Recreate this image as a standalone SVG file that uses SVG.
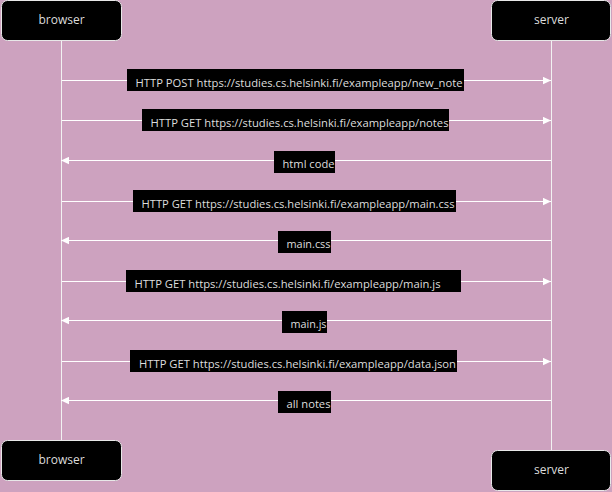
<svg xmlns="http://www.w3.org/2000/svg" width="612" height="492" viewBox="0 0 612 492">
<style>
.actor{fill:#000;stroke:#e8e8e8;stroke-width:1}
.atext{fill:#dcdcdc;font-family:"Open Sans","Noto Sans",sans-serif;font-size:12px;text-anchor:middle}
.life{stroke:#f2f2f2;stroke-width:1}
.msg{stroke:#ffffff;stroke-width:1;fill:none}
.lbox{fill:#000}
.ltext{fill:#dedede;font-family:"Open Sans","Noto Sans",sans-serif;font-size:11.5px}
</style>
<defs>
<marker id="ah" markerWidth="8" markerHeight="8" refX="8" refY="4" orient="auto" markerUnits="userSpaceOnUse">
<path d="M0,0.3 L8,4 L0,7.7 Z" fill="#ffffff"/>
</marker>
</defs>
<rect width="612" height="492" fill="#cda2bf"/>
<g id="lifelines">
<line class="life" x1="61.5" y1="41" x2="61.5" y2="440"/>
<line class="life" x1="551.5" y1="41" x2="551.5" y2="451"/>
</g>
<g id="browser-top"><rect class="actor" x="1.5" y="0.5" width="120" height="40" rx="6"/><text class="atext" x="61.5" y="24">browser</text></g>
<g id="server-top"><rect class="actor" x="491.5" y="0.5" width="119" height="40" rx="6"/><text class="atext" x="551.5" y="24">server</text></g>
<g id="browser-bottom"><rect class="actor" x="1.5" y="440.5" width="120" height="40" rx="6"/><text class="atext" x="61.5" y="464">browser</text></g>
<g id="server-bottom"><rect class="actor" x="491.5" y="450.5" width="119" height="40" rx="6"/><text class="atext" x="551.5" y="474">server</text></g>
<g id="connectors">
<line class="msg" x1="62" y1="80.5" x2="551" y2="80.5" marker-end="url(#ah)"/>
<line class="msg" x1="62" y1="120.5" x2="551" y2="120.5" marker-end="url(#ah)"/>
<line class="msg" x1="551" y1="160.5" x2="61" y2="160.5" marker-end="url(#ah)"/>
<line class="msg" x1="62" y1="201.5" x2="551" y2="201.5" marker-end="url(#ah)"/>
<line class="msg" x1="551" y1="240.5" x2="61" y2="240.5" marker-end="url(#ah)"/>
<line class="msg" x1="62" y1="281.5" x2="551" y2="281.5" marker-end="url(#ah)"/>
<line class="msg" x1="551" y1="320.5" x2="61" y2="320.5" marker-end="url(#ah)"/>
<line class="msg" x1="62" y1="361.5" x2="551" y2="361.5" marker-end="url(#ah)"/>
<line class="msg" x1="551" y1="400.5" x2="61" y2="400.5" marker-end="url(#ah)"/>
</g>
<g id="labels">
<rect class="lbox" x="127" y="69" width="337" height="22"/>
<text class="ltext" x="135.5" y="86.5" textLength="327" lengthAdjust="spacingAndGlyphs">HTTP POST https://studies.cs.helsinki.fi/exampleapp/new_note</text>
<rect class="lbox" x="142" y="109" width="307" height="22"/>
<text class="ltext" x="150.5" y="126.5" textLength="298" lengthAdjust="spacingAndGlyphs">HTTP GET https://studies.cs.helsinki.fi/exampleapp/notes</text>
<rect class="lbox" x="274" y="151" width="61" height="22"/>
<text class="ltext" x="282.5" y="167.5" textLength="52" lengthAdjust="spacingAndGlyphs">html code</text>
<rect class="lbox" x="133" y="190" width="323" height="22"/>
<text class="ltext" x="141.5" y="207.5" textLength="313" lengthAdjust="spacingAndGlyphs">HTTP GET https://studies.cs.helsinki.fi/exampleapp/main.css</text>
<rect class="lbox" x="278" y="231" width="53" height="22"/>
<text class="ltext" x="286.5" y="247.5" textLength="44" lengthAdjust="spacingAndGlyphs">main.css</text>
<rect class="lbox" x="126" y="270" width="335" height="22"/>
<text class="ltext" x="134.5" y="287.5" textLength="306" lengthAdjust="spacingAndGlyphs">HTTP GET https://studies.cs.helsinki.fi/exampleapp/main.js</text>
<rect class="lbox" x="282" y="311" width="45" height="22"/>
<text class="ltext" x="290.5" y="327.5" textLength="36" lengthAdjust="spacingAndGlyphs">main.js</text>
<rect class="lbox" x="130" y="350" width="327" height="22"/>
<text class="ltext" x="139" y="367.5" textLength="317" lengthAdjust="spacingAndGlyphs">HTTP GET https://studies.cs.helsinki.fi/exampleapp/data.json</text>
<rect class="lbox" x="278" y="391" width="53" height="22"/>
<text class="ltext" x="286.5" y="407.5" textLength="44" lengthAdjust="spacingAndGlyphs">all notes</text>
</g>
</svg>
